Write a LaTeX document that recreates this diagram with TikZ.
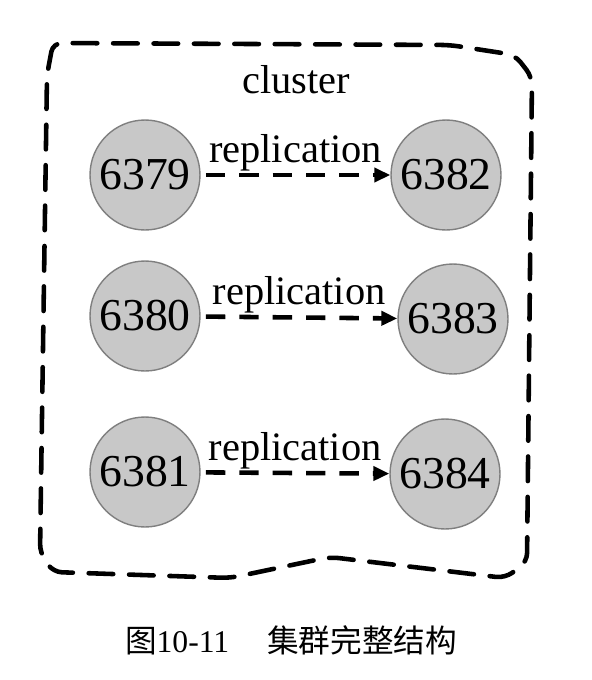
\documentclass[tikz,border=0pt]{standalone}
\usepackage{fontspec}
\setmainfont{Liberation Serif}
\newfontfamily\cjk{Noto Sans CJK SC}
\usetikzlibrary{arrows.meta}
\definecolor{nodefill}{HTML}{C8C8C8}
\definecolor{nodeedge}{HTML}{7F7F7F}
\tikzset{
  inst/.style={circle, draw=nodeedge, fill=nodefill, thick, minimum size=2.2cm,
               inner sep=0pt, font=\fontsize{26}{30}\selectfont},
  repl/.style={-{Triangle[length=3.2mm,width=2.8mm]}, line width=2.6pt,
               dash pattern=on 11pt off 8pt, shorten <=3pt},
  lbl/.style={font=\fontsize{23}{26}\selectfont, inner sep=1pt},
  grp/.style={line width=2.6pt, dash pattern=on 14pt off 9pt, line cap=round,
              line join=round, rounded corners=5pt}
}

\begin{document}
\begin{tikzpicture}[x=0.02cm,y=-0.02cm]
\useasboundingbox (0,0) rectangle (592,680);
% cluster border
\draw[grp] (47,75) -- (53,43) -- (450,45) -- (515,55) -- (532,77) -- (527,562)
  -- (505,578) -- (330,557) -- (230,578) -- (53,572) -- (40,553) -- cycle;
\node[lbl] (cl) at (296,80) {cluster};
% masters and slaves
\node[inst] (m1) at (145,175) {6379};
\node[inst] (m2) at (145,316) {6380};
\node[inst] (m3) at (145,472) {6381};
\node[inst] (s1) at (446,175) {6382};
\node[inst] (s2) at (453,319) {6383};
\node[inst] (s3) at (445,474) {6384};
\draw[repl] (m1) -- node[lbl,above] (r1) {replication} (s1);
\draw[repl] (m2) -- node[lbl,above] (r2) {replication} (s2);
\draw[repl] (m3) -- node[lbl,above] (r3) {replication} (s3);
% caption
\node[font=\fontsize{18}{21}\selectfont] (cap) at (291,640)
  {{\cjk 图}10-11\hspace{1.2em}{\cjk 集群完整结构}};
\end{tikzpicture}
\end{document}
